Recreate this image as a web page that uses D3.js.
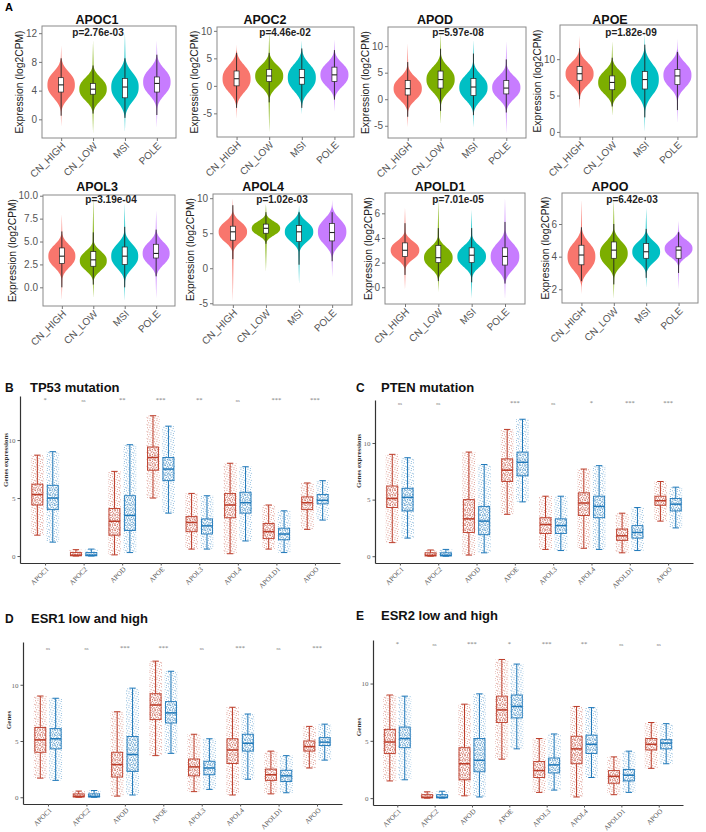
<!DOCTYPE html>
<html>
<head>
<meta charset="utf-8">
<script src="https://cdn.jsdelivr.net/npm/d3@7"></script>
<style>
  body { margin: 0; background: #fff; }
  svg { display: block; }
</style>
</head>
<body>
<svg id="fig" width="706" height="832"></svg>
<script>
// ---- panel A data (violins) ----
var violinGroups = ["CN_HIGH", "CN_LOW", "MSI", "POLE"];
var violinColors = ["#F8766D", "#7CAE00", "#00BFC4", "#C77CFF"];
var violinGenes = ["APOC1", "APOC2", "APOD", "APOE", "APOL3", "APOL4", "APOLD1", "APOO"];
var violinPValues = ["p=2.76e-03", "p=4.46e-02", "p=5.97e-08", "p=1.82e-09",
                     "p=3.19e-04", "p=1.02e-03", "p=7.01e-05", "p=6.42e-03"];
var violinTicks = [[0, 4, 8, 12], [-5, 0, 5, 10], [-5, 0, 5, 10], [0, 5, 10],
                   [0, 2.5, 5, 7.5, 10], [-5, 0, 5, 10], [0, 2, 4, 6], [2, 4, 6]];
var violinDomains = [[-2.6, 13.0], [-9.3, 10.7], [-7.3, 13.6], [-0.7, 14.7],
                     [-2.04, 10.08], [-5.25, 10.6], [-1.36, 7.65], [1.16, 7.9]];
// [low end, mode, high end, spread] per group
var violinShapes = [
  [[-1.0, 4.8, 10.3, 1.7], [-2.0, 4.2, 11.0, 1.5], [-1.8, 4.5, 12.2, 1.9], [-1.2, 5.2, 11.0, 1.7]],
  [[-6.0, 1.3, 7.5, 2.3], [-8.5, 1.8, 10.0, 1.9], [-5.2, 1.5, 8.3, 2.3], [-4.7, 2.0, 8.5, 2.0]],
  [[-5.3, 2.0, 10.5, 2.0], [-4.7, 3.7, 12.5, 2.2], [-5.3, 2.2, 11.2, 2.2], [-6.5, 2.2, 11.0, 2.0]],
  [[3.2, 8.0, 13.2, 1.5], [2.2, 6.8, 12.5, 1.5], [0.0, 7.2, 13.5, 2.0], [1.2, 7.8, 12.8, 1.6]],
  [[-1.4, 3.4, 8.0, 1.15], [-1.2, 2.9, 10.0, 1.0], [-1.5, 3.4, 9.2, 1.25], [-1.2, 3.7, 8.4, 1.15]],
  [[-4.8, 5.2, 10.0, 1.35], [-0.5, 5.7, 9.2, 0.95], [-2.3, 5.2, 9.0, 1.35], [-1.3, 5.2, 9.8, 1.7]],
  [[-0.2, 3.0, 6.5, 0.7], [-0.4, 2.4, 7.2, 0.8], [-0.9, 2.5, 6.3, 0.8], [-1.0, 2.5, 7.3, 1.0]],
  [[1.7, 4.0, 7.5, 0.8], [1.4, 4.2, 7.6, 0.7], [2.1, 4.3, 7.0, 0.6], [2.0, 4.5, 6.2, 0.5]]
];
// [whisker low, q1, median, q3, whisker high] per group
var violinBoxes = [
  [[0.5, 3.8, 4.8, 5.8, 8.5], [0.8, 3.5, 4.2, 5.0, 7.5], [0.2, 3.0, 4.5, 5.7, 8.5], [0.6, 3.8, 5.0, 5.9, 9.0]],
  [[-4.0, 0.0, 1.3, 2.7, 6.0], [-3.0, 0.8, 1.8, 3.0, 6.0], [-4.0, 0.3, 1.5, 3.0, 6.8], [-2.5, 0.8, 2.0, 3.4, 6.5]],
  [[-3.3, 0.8, 2.0, 3.5, 7.0], [-2.2, 2.1, 3.7, 5.3, 9.5], [-3.0, 0.7, 2.3, 3.9, 8.6], [-2.5, 1.0, 2.1, 3.5, 7.5]],
  [[4.5, 7.1, 8.0, 9.0, 11.5], [3.5, 5.8, 6.8, 7.7, 10.2], [2.0, 5.9, 7.2, 8.3, 12.0], [3.0, 6.5, 7.7, 8.6, 11.0]],
  [[0.0, 2.6, 3.4, 4.3, 6.1], [0.3, 2.3, 3.0, 3.9, 6.0], [0.0, 2.5, 3.4, 4.4, 6.6], [1.2, 3.2, 3.7, 4.7, 6.3]],
  [[1.3, 4.0, 5.2, 6.0, 9.0], [3.5, 5.0, 5.7, 6.3, 8.0], [0.5, 3.8, 5.2, 6.1, 8.0], [1.0, 3.9, 5.1, 6.4, 8.0]],
  [[1.0, 2.5, 3.0, 3.6, 5.2], [0.5, 2.0, 2.4, 3.4, 4.8], [0.4, 2.0, 2.6, 3.2, 4.8], [0.3, 1.8, 2.5, 3.2, 5.3]],
  [[2.5, 3.5, 4.1, 4.7, 5.8], [2.3, 3.9, 4.4, 4.9, 6.0], [2.7, 3.9, 4.3, 4.8, 5.7], [3.0, 3.9, 4.4, 4.6, 5.5]]
];

// ---- panels B-E data (box + jitter) ----
var boxGenes = ["APOC1", "APOC2", "APOD", "APOE", "APOL3", "APOL4", "APOLD1", "APOO"];
var boxColors = ["#BC3C29", "#1F78B9"];
var boxTicks = [0, 5, 10];
// [whisker low, q1, median, q3, whisker high]
var tp53GroupA = [[1.8, 4.4, 5.3, 6.2, 8.7], [0, 0.02, 0.08, 0.3, 0.55], [0.1, 1.8, 3.0, 4.1, 7.3], [5.0, 7.4, 8.5, 9.4, 12.1],
                  [0.6, 2.1, 2.9, 3.4, 5.4], [0.2, 3.3, 4.4, 5.4, 8.0], [0.6, 1.5, 2.1, 2.8, 4.4], [2.3, 4.0, 4.6, 5.1, 6.3]];
var tp53GroupB = [[1.2, 4.0, 5.0, 6.1, 9.0], [0, 0.02, 0.08, 0.3, 0.6], [0.3, 2.2, 3.5, 5.2, 9.6], [3.7, 6.5, 7.5, 8.5, 11.2],
                  [0.6, 1.9, 2.6, 3.2, 5.2], [1.3, 3.7, 4.6, 5.5, 7.7], [0.3, 1.4, 1.9, 2.4, 3.9], [3.1, 4.5, 4.8, 5.3, 6.5]];
var tp53Sig = ["*", "ns", "**", "***", "**", "ns", "***", "***"];

var ptenGroupA = [[1.2, 4.3, 5.1, 6.2, 9.0], [0, 0.02, 0.08, 0.3, 0.55], [0.1, 2.1, 3.3, 5.0, 9.2], [3.7, 6.6, 7.6, 8.6, 11.2],
                  [0.6, 2.0, 2.8, 3.4, 5.3], [0.7, 3.6, 4.7, 5.6, 7.7], [0.3, 1.4, 1.8, 2.4, 3.8], [3.1, 4.5, 4.9, 5.3, 6.6]];
var ptenGroupB = [[1.6, 4.0, 5.2, 6.0, 8.7], [0, 0.02, 0.08, 0.3, 0.6], [0.3, 1.9, 3.1, 4.4, 8.1], [4.8, 7.1, 8.3, 9.2, 12.1],
                  [0.5, 2.0, 2.7, 3.3, 5.3], [0.6, 3.4, 4.4, 5.3, 8.0], [0.5, 1.6, 2.1, 2.7, 4.3], [2.5, 4.0, 4.6, 5.1, 6.1]];
var ptenSig = ["ns", "ns", "", "***", "ns", "*", "***", "***"];

var esr1GroupA = [[1.7, 4.0, 5.1, 6.2, 9.0], [0, 0.02, 0.08, 0.3, 0.55], [0.1, 1.8, 2.9, 4.0, 7.6], [3.7, 6.9, 8.2, 9.2, 12.1],
                  [0.5, 1.9, 2.7, 3.4, 5.6], [0.2, 3.0, 4.2, 5.2, 8.0], [0.3, 1.5, 2.0, 2.5, 4.1], [2.6, 4.1, 4.5, 5.0, 6.3]];
var esr1GroupB = [[1.5, 4.3, 5.2, 6.1, 8.8], [0, 0.02, 0.08, 0.3, 0.6], [0.2, 2.3, 3.8, 5.4, 9.7], [3.9, 6.6, 7.5, 8.5, 11.2],
                  [0.7, 2.0, 2.6, 3.2, 5.2], [1.6, 4.1, 4.8, 5.6, 7.4], [0.4, 1.4, 1.9, 2.4, 3.7], [3.3, 4.6, 4.9, 5.3, 6.5]];
var esr1Sig = ["ns", "ns", "***", "***", "ns", "***", "ns", "***"];

var esr2GroupA = [[1.5, 3.9, 4.9, 6.0, 9.0], [0, 0.02, 0.08, 0.3, 0.55], [0.2, 1.6, 3.0, 4.4, 8.2], [3.4, 6.6, 7.7, 8.9, 12.1],
                  [0.5, 1.8, 2.4, 3.2, 5.2], [0.1, 3.0, 4.3, 5.4, 8.0], [0.3, 1.3, 1.9, 2.4, 3.6], [2.6, 4.2, 4.7, 5.2, 6.6]];
var esr2GroupB = [[1.6, 4.4, 5.2, 6.2, 8.9], [0, 0.02, 0.08, 0.3, 0.6], [0.1, 2.3, 3.3, 5.2, 9.1], [4.3, 7.0, 8.0, 9.0, 11.7],
                  [0.7, 2.2, 2.9, 3.5, 5.6], [1.8, 3.9, 4.7, 5.5, 7.9], [0.5, 1.5, 2.0, 2.5, 4.1], [3.0, 4.3, 4.8, 5.1, 6.5]];
var esr2Sig = ["*", "ns", "***", "*", "***", "**", "ns", "ns"];

var svg = d3.select("#fig");
var sans = "'Liberation Sans', Arial, sans-serif";
var serif = "'Liberation Serif', 'Times New Roman', serif";

// ---------- Panel A ----------
var aPlots = [
  {l: 42, r: 176, t: 26, b: 138, tx: 97, px: 98, ty: 24, py: 36},
  {l: 217, r: 354, t: 27, b: 137, tx: 265, px: 285, ty: 24, py: 36},
  {l: 388, r: 526, t: 27, b: 138, tx: 435, px: 458, ty: 24, py: 36},
  {l: 560, r: 697, t: 25, b: 137, tx: 610, px: 631, ty: 24, py: 36},
  {l: 43, r: 175, t: 195, b: 306, tx: 97, px: 111, ty: 191, py: 203},
  {l: 213, r: 352, t: 194, b: 305, tx: 263, px: 282, ty: 191, py: 203},
  {l: 385, r: 525, t: 193, b: 304, tx: 440, px: 458, ty: 191, py: 203},
  {l: 562, r: 698, t: 193, b: 303, tx: 610, px: 632, ty: 191, py: 203}
];

svg.append("text").attr("x", 5).attr("y", 11).text("A")
  .style("font-family", sans).style("font-weight", "bold").style("font-size", "11px");

function violinWidth(v, s) {
  var lo = s[0], mode = s[1], hi = s[2], sd = s[3];
  var z = Math.abs(v - mode) / sd;
  var core = Math.exp(-0.5 * Math.pow(z, 2.5));
  var t = v < mode ? (mode - v) / (mode - lo) : (v - mode) / (hi - mode);
  var tail = 0.07 * (1 - t);
  return Math.max(core * (1 - Math.pow(t, 6)), tail);
}

violinGenes.forEach(function(gene, i) {
  var p = aPlots[i];
  var g = svg.append("g");
  var x = d3.scalePoint().domain(violinGroups).range([p.l, p.r]).padding(0.6);
  var y = d3.scaleLinear().domain(violinDomains[i]).range([p.b, p.t]);
  var hw = x.step() * 0.43;

  violinShapes[i].forEach(function(s, j) {
    var cx = x(violinGroups[j]);
    var vals = d3.range(0, 81).map(function(k) { return s[0] + (s[2] - s[0]) * k / 80; });
    var area = d3.area()
      .curve(d3.curveBasis)
      .y(function(v) { return y(v); })
      .x0(function(v) { return cx - hw * violinWidth(v, s); })
      .x1(function(v) { return cx + hw * violinWidth(v, s); });
    g.append("path").attr("d", area(vals)).attr("fill", violinColors[j]);

    var b = violinBoxes[i][j];
    g.append("line").attr("x1", cx).attr("x2", cx).attr("y1", y(b[0])).attr("y2", y(b[4]))
      .attr("stroke", "#222").attr("stroke-width", 0.9);
    g.append("rect").attr("x", cx - 2.5).attr("width", 5)
      .attr("y", y(b[3])).attr("height", y(b[1]) - y(b[3]))
      .attr("fill", "#fff").attr("stroke", "#222").attr("stroke-width", 0.7);
    g.append("line").attr("x1", cx - 2.5).attr("x2", cx + 2.5).attr("y1", y(b[2])).attr("y2", y(b[2]))
      .attr("stroke", "#222").attr("stroke-width", 1.1);
  });

  g.append("rect").attr("x", p.l).attr("y", p.t).attr("width", p.r - p.l).attr("height", p.b - p.t)
    .attr("fill", "none").attr("stroke", "#8a8a8a").attr("stroke-width", 1);

  var fmt = violinTicks[i].some(function(t) { return t % 1 !== 0; }) ? d3.format(".1f") : d3.format("d");
  var yAx = g.append("g").attr("transform", "translate(" + p.l + ",0)")
    .call(d3.axisLeft(y).tickValues(violinTicks[i]).tickSize(3).tickPadding(2).tickFormat(function(d) { return fmt(d).replace("\u2212", "-"); }));
  yAx.select(".domain").remove();
  yAx.selectAll("line").attr("stroke", "#777");
  yAx.selectAll("text").attr("fill", "#555").style("font-family", sans).style("font-size", "10px");

  var xAx = g.append("g").attr("transform", "translate(0," + p.b + ")")
    .call(d3.axisBottom(x).tickSize(3));
  xAx.select(".domain").remove();
  xAx.selectAll("line").attr("stroke", "#777");
  xAx.selectAll("text")
    .attr("x", 0).attr("y", 0).attr("dy", "0.35em")
    .attr("transform", "translate(2,6) rotate(-45)")
    .style("text-anchor", "end")
    .attr("fill", "#555").style("font-family", sans).style("font-size", "10px");

  var tickBox = yAx.node().getBBox();
  var labX = p.l + tickBox.x - 6;
  g.append("text")
    .attr("transform", "translate(" + labX + "," + ((p.t + p.b) / 2) + ") rotate(-90)")
    .attr("dy", "0.35em")
    .style("text-anchor", "middle").style("font-family", sans).style("font-size", "10.3px")
    .attr("fill", "#222").text("Expression (log2CPM)");

  g.append("text").attr("x", p.tx).attr("y", p.ty).text(gene)
    .style("text-anchor", "middle").style("font-family", sans)
    .style("font-weight", "bold").style("font-size", "12.5px").attr("fill", "#111");
  g.append("text").attr("x", p.px).attr("y", p.py).text(violinPValues[i])
    .style("text-anchor", "middle").style("font-family", sans)
    .style("font-weight", "bold").style("font-size", "10px").attr("fill", "#222");
});

// ---------- Panels B-E ----------
// jitter clouds drawn as a dotted texture inside each whisker range
var defs = svg.append("defs");
boxColors.forEach(function(c, s) {
  var sparse = defs.append("pattern").attr("id", "jit" + s).attr("patternUnits", "userSpaceOnUse")
    .attr("width", 7).attr("height", 7);
  [[0.5, 0.8], [2.9, 0.3], [5.2, 1.5], [1.7, 2.7], [4.1, 3.6], [6.3, 4.3], [0.8, 4.9], [3.0, 5.8], [5.4, 6.5]].forEach(function(d) {
    sparse.append("circle").attr("cx", d[0]).attr("cy", d[1]).attr("r", 0.55).attr("fill", c).attr("fill-opacity", 0.6);
  });
  var dense = defs.append("pattern").attr("id", "jitd" + s).attr("patternUnits", "userSpaceOnUse")
    .attr("width", 5).attr("height", 5);
  [[0.5, 0.5], [2.6, 1.1], [4.3, 0.2], [1.3, 2.4], [3.5, 2.9], [0.4, 4.0], [2.4, 4.4], [4.5, 4.1]].forEach(function(d) {
    dense.append("circle").attr("cx", d[0]).attr("cy", d[1]).attr("r", 0.55).attr("fill", c).attr("fill-opacity", 0.6);
  });
});

var boxPanels = [
  {label: "B", title: "TP53 mutation", lx: 5, tx: 30, ty: 392, axL: 20, axR: 340, top: 396, bot: 563, sigY: 402,
   ylab: "Genes expressions", ylx: 6, yly: 460, a: tp53GroupA, b: tp53GroupB, sig: tp53Sig},
  {label: "C", title: "PTEN mutation", lx: 356, tx: 381, ty: 392, axL: 375, axR: 693, top: 400, bot: 563, sigY: 405,
   ylab: "Genes expressions", ylx: 359, yly: 461, a: ptenGroupA, b: ptenGroupB, sig: ptenSig},
  {label: "D", title: "ESR1 low and high", lx: 5, tx: 31, ty: 623, axL: 23, axR: 342, top: 642, bot: 804, sigY: 650,
   ylab: "Genes", ylx: 9, yly: 720, a: esr1GroupA, b: esr1GroupB, sig: esr1Sig},
  {label: "E", title: "ESR2 low and high", lx: 356, tx: 381, ty: 620, axL: 373, axR: 683, top: 640, bot: 805, sigY: 646,
   ylab: "Genes", ylx: 359, yly: 727, a: esr2GroupA, b: esr2GroupB, sig: esr2Sig}
];

boxPanels.forEach(function(bp) {
  var g = svg.append("g");
  g.append("text").attr("x", bp.lx).attr("y", bp.ty).text(bp.label)
    .style("font-family", sans).style("font-weight", "bold").style("font-size", "12px").attr("fill", "#111");
  g.append("text").attr("x", bp.tx).attr("y", bp.ty).text(bp.title)
    .style("font-family", sans).style("font-weight", "bold").style("font-size", "13px").attr("fill", "#111");

  var x = d3.scalePoint().domain(boxGenes).range([bp.axL, bp.axR]).padding(0.65);
  var y = d3.scaleLinear().domain([-0.6, 13.8]).range([bp.bot, bp.top]);
  var off = x.step() * 0.2;
  var bw = 11;

  [bp.a, bp.b].forEach(function(series, s) {
    var col = boxColors[s];
    series.forEach(function(b, k) {
      var cx = x(boxGenes[k]) + (s ? off : -off);
      g.append("rect").attr("x", cx - bw / 2 - 1).attr("width", bw + 2)
        .attr("y", y(b[4])).attr("height", y(b[0]) - y(b[4])).attr("fill", "url(#jit" + s + ")");
      g.append("rect").attr("x", cx - bw / 2).attr("width", bw)
        .attr("y", y(b[3])).attr("height", y(b[1]) - y(b[3])).attr("fill", "url(#jitd" + s + ")");
      g.append("line").attr("x1", cx).attr("x2", cx).attr("y1", y(b[0])).attr("y2", y(b[1]))
        .attr("stroke", col).attr("stroke-width", 1);
      g.append("line").attr("x1", cx).attr("x2", cx).attr("y1", y(b[3])).attr("y2", y(b[4]))
        .attr("stroke", col).attr("stroke-width", 1);
      [b[0], b[4]].forEach(function(v) {
        g.append("line").attr("x1", cx - 3.2).attr("x2", cx + 3.2).attr("y1", y(v)).attr("y2", y(v))
          .attr("stroke", col).attr("stroke-width", 1);
      });
      g.append("rect").attr("x", cx - bw / 2).attr("width", bw)
        .attr("y", y(b[3])).attr("height", Math.max(y(b[1]) - y(b[3]), 1))
        .attr("fill", "none").attr("stroke", col).attr("stroke-width", 0.9);
      g.append("line").attr("x1", cx - bw / 2).attr("x2", cx + bw / 2).attr("y1", y(b[2])).attr("y2", y(b[2]))
        .attr("stroke", col).attr("stroke-width", 1.5);
    });
  });

  bp.sig.forEach(function(t, k) {
    g.append("text").attr("x", x(boxGenes[k])).attr("y", bp.sigY).text(t)
      .style("text-anchor", "middle").style("font-family", serif)
      .style("font-size", t === "ns" ? "4.5px" : "6.5px").attr("fill", "#777");
  });

  var yAx = g.append("g").attr("transform", "translate(" + bp.axL + ",0)")
    .call(d3.axisLeft(y).tickValues(boxTicks).tickSize(2.5).tickSizeOuter(0).tickPadding(2));
  yAx.select(".domain").attr("stroke", "#333").attr("stroke-width", 1.2);
  yAx.selectAll("line").attr("stroke", "#555");
  yAx.selectAll("text").attr("fill", "#666").style("font-family", serif).style("font-size", "7px");

  var xAx = g.append("g").attr("transform", "translate(0," + bp.bot + ")")
    .call(d3.axisBottom(x).tickSize(2.5).tickSizeOuter(0));
  xAx.select(".domain").attr("stroke", "#333").attr("stroke-width", 1.2);
  xAx.selectAll("line").attr("stroke", "#555");
  xAx.selectAll("text")
    .attr("x", 0).attr("y", 0).attr("dy", "0.35em")
    .attr("transform", "translate(2,5) rotate(-45)")
    .style("text-anchor", "end")
    .attr("fill", "#555").style("font-family", serif).style("font-size", "7px");

  g.append("text")
    .attr("transform", "translate(" + bp.ylx + "," + bp.yly + ") rotate(-90)")
    .attr("dy", "0.35em")
    .style("text-anchor", "middle").style("font-family", serif).style("font-size", "7px")
    .style("font-weight", "bold").attr("fill", "#333").text(bp.ylab);
});
</script>
</body>
</html>
